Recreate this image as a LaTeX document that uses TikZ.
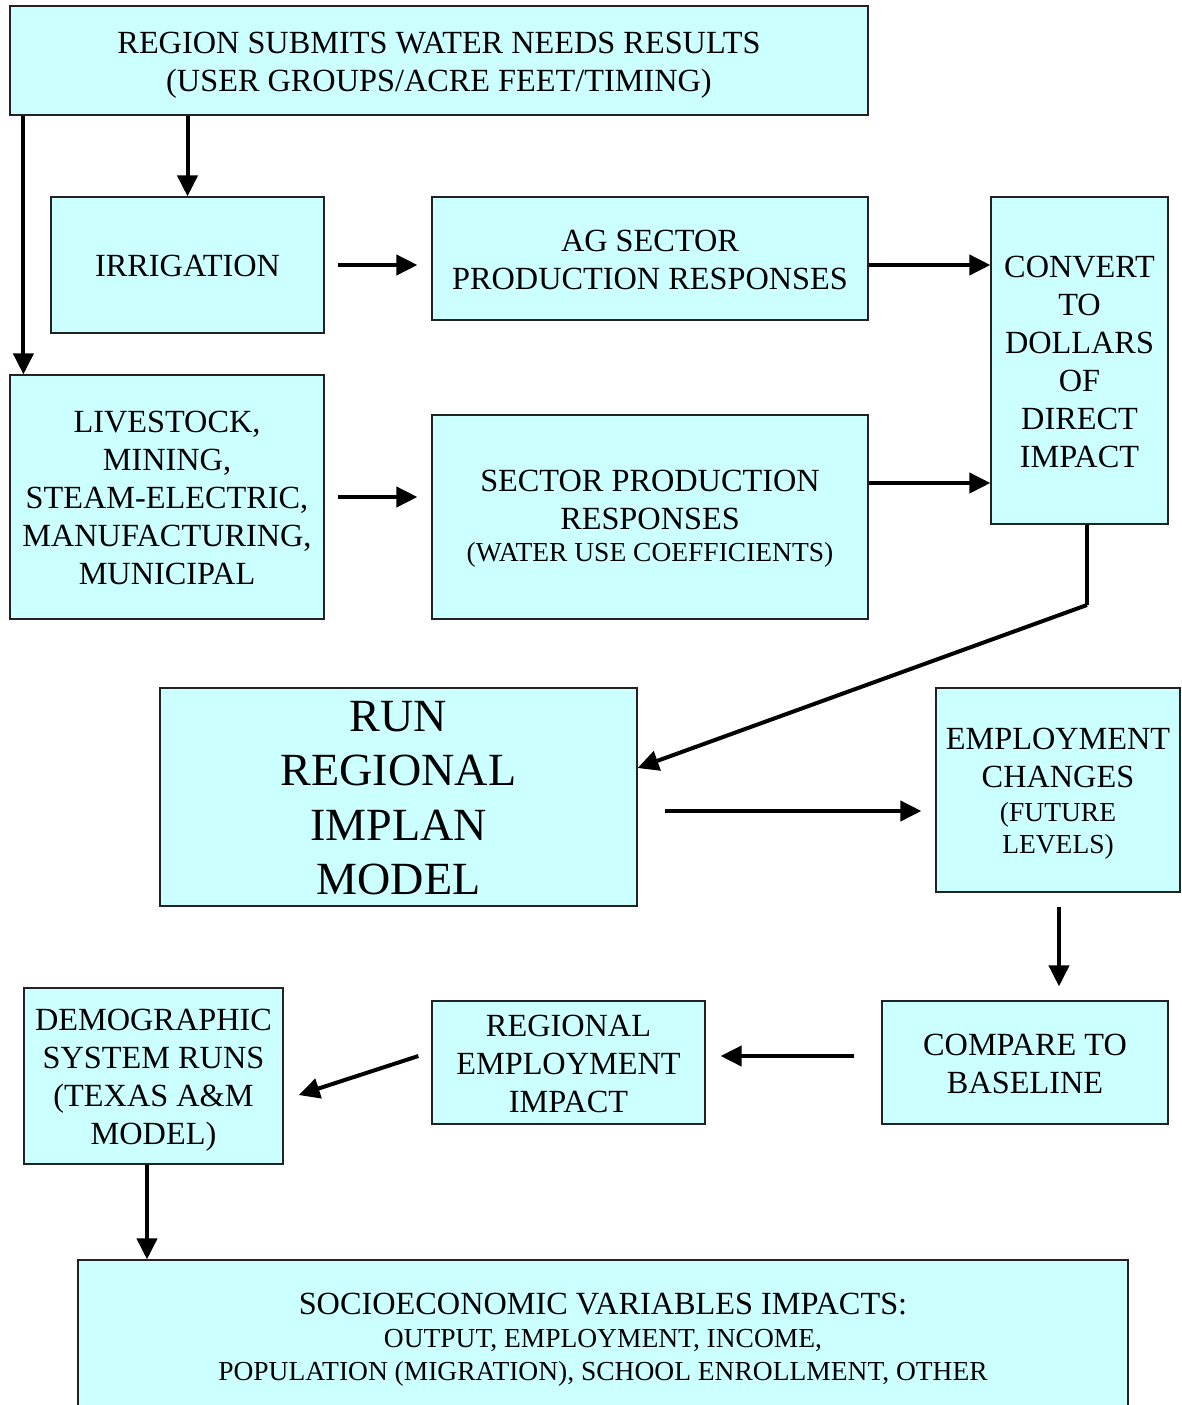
\documentclass[tikz,border=0pt]{standalone}
\usepackage{fontspec}
\setmainfont{Liberation Serif}
\usetikzlibrary{arrows.meta,calc}
\definecolor{boxfill}{HTML}{CCFFFF}
\definecolor{boxline}{HTML}{222222}
\newcommand\fsA{\fontsize{32.3}{38}\selectfont}
\newcommand\fsB{\fontsize{27.5}{33}\selectfont}
\newcommand\fsC{\fontsize{46.1}{54.5}\selectfont}
\begin{document}
\begin{tikzpicture}[x=1pt,y=-1pt,
  box/.style={draw=boxline, line width=1.2pt, fill=boxfill, align=center,
    inner sep=0pt, font=\fsA, text depth=0pt},
  th/.style={text height=#1},
  arr/.style={line width=4pt, -{Triangle[length=21pt,width=20pt]}},
  lin/.style={line width=4pt}]
\useasboundingbox (0,0) rectangle (1181,1405);
\fill[white] (0,0) rectangle (1181,1405);

\node[box, th=61.2pt, minimum width=858, minimum height=109] (top) at (439,60.5)
  {REGION SUBMITS WATER NEEDS RESULTS\\(USER GROUPS/ACRE FEET/TIMING)};
\node[box, th=23.2pt, minimum width=273, minimum height=136] (irr) at (187.5,265) {IRRIGATION};
\node[box, th=61.2pt, minimum width=436, minimum height=123] (ag) at (650,258.5)
  {AG SECTOR\\PRODUCTION RESPONSES};
\node[box, th=213.2pt, minimum width=177, minimum height=327] (conv) at (1079.5,360.5)
  {CONVERT\\TO\\DOLLARS\\OF\\DIRECT\\IMPACT};
\node[box, th=175.2pt, minimum width=314, minimum height=244] (live) at (167,497)
  {LIVESTOCK,\\MINING,\\STEAM-ELECTRIC,\\MANUFACTURING,\\MUNICIPAL};
\node[box, th=89.7pt, minimum width=436, minimum height=204] (sect) at (650,517)
  {SECTOR PRODUCTION\\RESPONSES\\[-5.5pt]\fsB (WATER USE COEFFICIENTS)};
\node[box, th=195.7pt, minimum width=477, minimum height=218, font=\fsC] (run) at (398.5,797)
  {RUN\\REGIONAL\\IMPLAN\\MODEL};
\node[box, th=126.7pt, minimum width=244, minimum height=204] (emp) at (1058,790)
  {EMPLOYMENT\\CHANGES\\[-4.5pt]\fsB (FUTURE\\[-6pt]\fsB LEVELS)};
\node[box, th=61.2pt, minimum width=286, minimum height=123] (cmp) at (1025,1062.5)
  {COMPARE TO\\BASELINE};
\node[box, th=99.2pt, minimum width=273, minimum height=123] (reg) at (568.5,1062.5)
  {REGIONAL\\EMPLOYMENT\\IMPACT};
\node[box, th=137.2pt, minimum width=259, minimum height=176] (demo) at (153.5,1076)
  {DEMOGRAPHIC\\SYSTEM RUNS\\(TEXAS A\&M\\MODEL)};
\node[box, th=89.7pt, minimum width=1050, minimum height=152] (soc) at (603,1336)
  {SOCIOECONOMIC VARIABLES IMPACTS:\\[-4.5pt]\fsB OUTPUT, EMPLOYMENT, INCOME,\\[-5pt]\fsB POPULATION (MIGRATION), SCHOOL ENROLLMENT, OTHER};

% connectors
\draw[arr] (irr.north |- top.south) -- (irr.north);
\draw[arr] ($(top.south west)+(14,0)$) -- ($(live.north west)+(14,0)$);
\draw[arr] ($(irr.east)+(13,0)$) -- ($(irr.east -| ag.west)+(-14,0)$);
\draw[arr] (irr.east -| ag.east) -- (irr.east -| conv.west);
\draw[arr] ($(live.east)+(13,0)$) -- ($(live.east -| sect.west)+(-14,0)$);
\draw[arr] ($(sect.east)+(0,-34)$) -- ($(sect.east -| conv.west)+(0,-34)$);
\coordinate (k1) at (1087,605);
\draw[lin] ($(conv.south)+(7.5,0)$) -- (k1);
\draw[arr] (k1) -- ($(run.east)+(0,-29)$);
\draw[arr] ($(run.east)+(27,14)$) -- ($(run.east -| emp.west)+(-14,14)$);
\draw[arr] ($(emp.south)+(1,14)$) -- ($(emp.south |- cmp.north)+(1,-14)$);
\draw[arr] ($(cmp.west)+(-27,-6.5)$) -- ($(reg.east)+(15,-6.5)$);
\draw[arr] ($(reg.west)+(-13,-6.5)$) -- ($(demo.east)+(15,19)$);
\draw[arr] ($(demo.south)+(-6.5,0)$) -- ($(demo.south |- soc.north)+(-6.5,0)$);
\end{tikzpicture}
\end{document}
